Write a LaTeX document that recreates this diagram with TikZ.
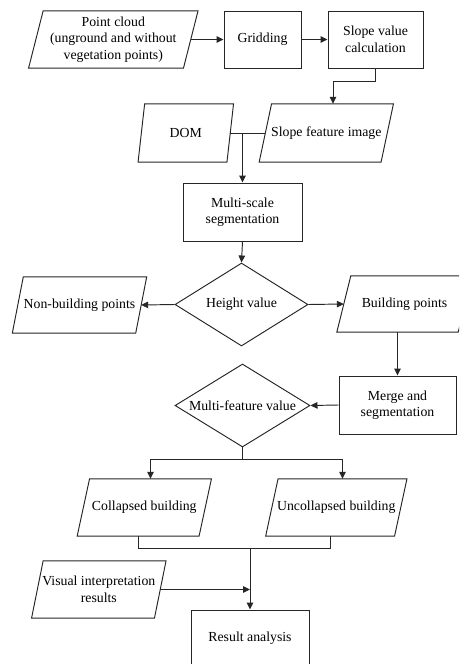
\documentclass[tikz,border=0pt]{standalone}
\usepackage{fontspec}
\setmainfont{Liberation Serif}
\usetikzlibrary{shapes.geometric,arrows.meta}
\tikzset{
  ln/.style={line width=0.95pt, draw=black!85},
  arr/.style={ln, -{Triangle[length=7pt,width=6.5pt]}},
  txt/.style={font=\fontsize{13.8}{16.5}\selectfont, align=center},
  box/.style={txt, ln, rectangle, inner sep=0pt},
  parabox/.style={txt, draw=none, rectangle, inner sep=0pt},
  dia/.style={ln, diamond, inner sep=0pt},
}
\newcommand{\parashape}[2]{\draw[ln] ([xshift=#2]#1.north west) -- ([xshift=#2]#1.north east) -- ([xshift=-#2]#1.south east) -- ([xshift=-#2]#1.south west) -- cycle;}
\begin{document}
\begin{tikzpicture}[x=1pt,y=-1pt]
\useasboundingbox[fill=white] (0,0) rectangle (459,664);
\clip (0,0) rectangle (459,664);
% nodes
\node[parabox, minimum width=154.5, minimum height=57] (pc) at (113.3,39.5) {Point cloud\\(unground and without\\vegetation points)};
\node[box, minimum width=77, minimum height=57] (grid) at (262.5,39.5) {Gridding};
\node[box, minimum width=95, minimum height=57] (slope) at (375.5,39.5) {Slope value\\calculation};
\node[parabox, minimum width=88.5, minimum height=58] (dom) at (185.8,133) {DOM};
\node[parabox, minimum width=121.5, minimum height=58] (sfi) at (326.3,133) {Slope feature image};
\node[box, minimum width=119, minimum height=58] (ms) at (242.5,212) {Multi-scale\\segmentation};
\node[dia, minimum width=133, minimum height=83, label={[txt]center:Height value}] (hv) at (241.5,304.5) {};
\node[parabox, minimum width=123, minimum height=56] (nb) at (79.5,305) {Non-building points};
\node[parabox, minimum width=121, minimum height=56] (bp) at (404.5,304) {Building points};
\node[box, minimum width=117, minimum height=58] (mas) at (397.5,405) {Merge and\\segmentation};
\node[dia, minimum width=135, minimum height=83, label={[txt]center:Multi-feature value}] (mf) at (242.5,405.5) {};
\node[parabox, minimum width=121.5, minimum height=57] (cb) at (144.3,507.5) {Collapsed building};
\node[parabox, minimum width=128.5, minimum height=57] (ub) at (336.3,507.5) {Uncollapsed building};
\node[parabox, minimum width=122.5, minimum height=57] (vi) at (98.8,589.5) {Visual interpretation\\results};
\node[box, minimum width=118, minimum height=56] (ra) at (250,638) {Result analysis};
% parallelogram outlines
\parashape{pc}{7.3}
\parashape{dom}{3.3}
\parashape{sfi}{6.2}
\parashape{nb}{5.5}
\parashape{bp}{7}
\parashape{cb}{6.2}
\parashape{ub}{6.2}
\parashape{vi}{5.8}
% connectors
\draw[arr] (pc.east) -- (grid.west);
\draw[arr] (grid.east) -- (slope.west);
\draw[arr] (slope.south) -- ++(0,13) -| ([xshift=6.7]sfi.north);
\draw[ln] (dom.east) -- (sfi.west);
\coordinate (j1) at (ms.north |- dom.east);
\draw[arr] (j1) -- (ms.north);
\draw[arr] (ms.south) -- (hv.north);
\draw[arr] (hv.west) -- (nb.east);
\draw[arr] (hv.east) -- (bp.west);
\draw[arr] (bp.south -| mas.north) -- (mas.north);
\draw[arr] (mas.west) -- (mf.east);
\coordinate (j2) at ([yshift=-12]mf.south);
\draw[ln] (mf.south) -- (j2);
\draw[arr] (j2) -| ([xshift=6.2]cb.north);
\draw[arr] (j2) -| ([xshift=6.2]ub.north);
\coordinate (j3) at ([yshift=-12]cb.south -| ra.north);
\draw[ln] ([xshift=-6.2]cb.south) |- (j3) -| ([xshift=-6.2]ub.south);
\draw[arr] (j3) -- (ra.north);
\draw[arr] (vi.east) -- (vi.east -| ra.north);
\end{tikzpicture}
\end{document}
